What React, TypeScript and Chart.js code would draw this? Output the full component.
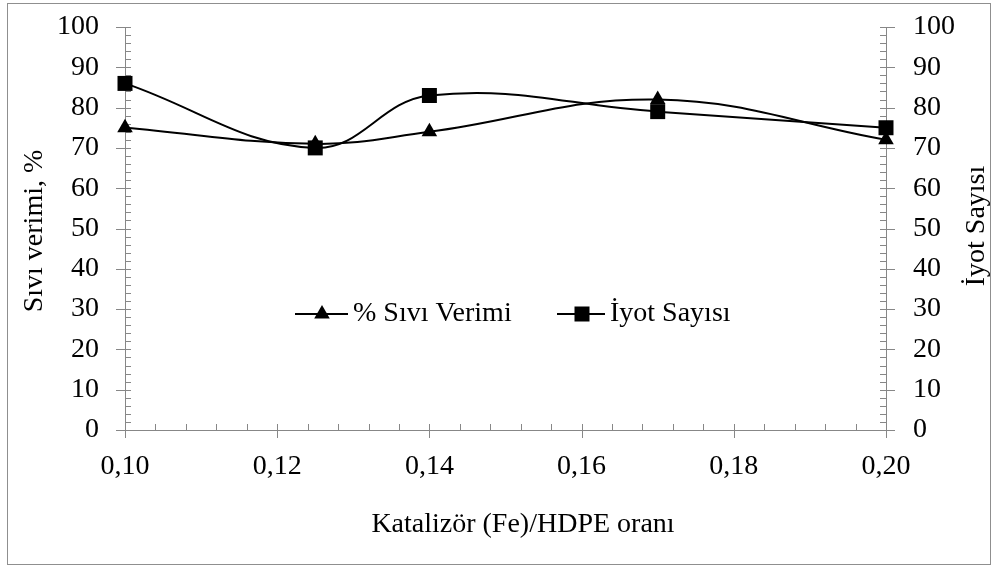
import React, { useEffect, useRef } from "react";
import { Chart, registerables } from "chart.js";

Chart.register(...registerables);

// ---- data ----
const xValues = [0.1, 0.125, 0.14, 0.17, 0.2];
const liquidYield = [75, 71, 74, 82, 72]; // % Sıvı Verimi
const iodineNumber = [86, 70, 83, 79, 75]; // İyot Sayısı
const xTickValues = [0.1, 0.12, 0.14, 0.16, 0.18, 0.2];
const yTickValues = [0, 10, 20, 30, 40, 50, 60, 70, 80, 90, 100];
const seriesLabels = ["% Sıvı Verimi", "İyot Sayısı"];
const xTitle = "Katalizör (Fe)/HDPE oranı";
const yLeftTitle = "Sıvı verimi, %";
const yRightTitle = "İyot Sayısı";

const FONT = "'Liberation Serif', 'Times New Roman', serif";
const AXIS = "#878787";

const fmtX = (v: number) => Number(v).toFixed(2).replace(".", ",");

const decorPlugin = {
  id: "decor",
  beforeDatasetsDraw(chart: any) {
    const ctx = chart.ctx;
    const x = chart.scales.x;
    const y = chart.scales.y;
    const y2 = chart.scales.y2;
    const ca = chart.chartArea;
    ctx.save();
    ctx.strokeStyle = AXIS;
    ctx.lineWidth = 1;
    ctx.beginPath();
    // x ticks
    for (let i = 0; i < xTickValues.length; i++) {
      const px = Math.round(x.getPixelForValue(xTickValues[i])) + 0.5;
      ctx.moveTo(px, ca.bottom - 6);
      ctx.lineTo(px, ca.bottom + 8);
      if (i < xTickValues.length - 1) {
        const step = (xTickValues[i + 1] - xTickValues[i]) / 5;
        for (let k = 1; k < 5; k++) {
          const mx = Math.round(x.getPixelForValue(xTickValues[i] + step * k)) + 0.5;
          ctx.moveTo(mx, ca.bottom - 6);
          ctx.lineTo(mx, ca.bottom);
        }
      }
    }
    // y ticks (left and right)
    for (let i = 0; i < yTickValues.length; i++) {
      const py = Math.round(y.getPixelForValue(yTickValues[i])) + 0.5;
      ctx.moveTo(ca.left - 9, py);
      ctx.lineTo(ca.left + 6, py);
      const py2 = Math.round(y2.getPixelForValue(yTickValues[i])) + 0.5;
      ctx.moveTo(ca.right - 6, py2);
      ctx.lineTo(ca.right + 9, py2);
      if (i < yTickValues.length - 1) {
        const step = (yTickValues[i + 1] - yTickValues[i]) / 5;
        for (let k = 1; k < 5; k++) {
          const my = Math.round(y.getPixelForValue(yTickValues[i] + step * k)) + 0.5;
          ctx.moveTo(ca.left, my);
          ctx.lineTo(ca.left + 6, my);
          const my2 = Math.round(y2.getPixelForValue(yTickValues[i] + step * k)) + 0.5;
          ctx.moveTo(ca.right - 6, my2);
          ctx.lineTo(ca.right, my2);
        }
      }
    }
    ctx.stroke();
    // outer border
    ctx.strokeStyle = "#8f8f8f";
    ctx.strokeRect(7.5, 3.5, 983, 561);
    ctx.restore();
  },
  afterDraw(chart: any) {
    const ctx = chart.ctx;
    ctx.save();
    ctx.fillStyle = "#000";
    ctx.font = `28px ${FONT}`;
    // x title
    ctx.textAlign = "center";
    ctx.textBaseline = "alphabetic";
    ctx.fillText(xTitle, 523, 532);
    // left title
    ctx.save();
    ctx.translate(42, 231);
    ctx.rotate(-Math.PI / 2);
    ctx.fillText(yLeftTitle, 0, 0);
    ctx.restore();
    // right title
    ctx.save();
    ctx.translate(984, 226);
    ctx.rotate(-Math.PI / 2);
    ctx.fillText(yRightTitle, 0, 0);
    ctx.restore();

    // legend
    const ly = 314;
    ctx.strokeStyle = "#000";
    ctx.lineWidth = 2;
    ctx.beginPath();
    ctx.moveTo(295, ly);
    ctx.lineTo(348, ly);
    ctx.moveTo(557, ly);
    ctx.lineTo(605, ly);
    ctx.stroke();
    // triangle marker
    const tr = 9;
    const tcx = 322;
    ctx.beginPath();
    ctx.moveTo(tcx, ly - tr);
    ctx.lineTo(tcx + tr * Math.sin((2 * Math.PI) / 3), ly - tr * Math.cos((2 * Math.PI) / 3));
    ctx.lineTo(tcx + tr * Math.sin((4 * Math.PI) / 3), ly - tr * Math.cos((4 * Math.PI) / 3));
    ctx.closePath();
    ctx.fill();
    // square marker
    const sq = 15;
    ctx.fillRect(582 - sq / 2, ly - sq / 2, sq, sq);
    ctx.textAlign = "left";
    ctx.textBaseline = "middle";
    ctx.fillText(seriesLabels[0], 353, ly);
    ctx.fillText(seriesLabels[1], 610, ly);
    ctx.restore();
  },
};

export default function App() {
  const ref = useRef<HTMLCanvasElement | null>(null);
  useEffect(() => {
    if (!ref.current) return;
    const tickFont = { family: FONT, size: 28 };
    const fitY = (w: number) => (s: any) => {
      s.width = w;
      s.paddingTop = 0;
      s.paddingBottom = 0;
    };
    const chart = new Chart(ref.current, {
      type: "line",
      data: {
        datasets: [
          {
            label: seriesLabels[0],
            data: xValues.map((x, i) => ({ x, y: liquidYield[i] })),
            yAxisID: "y",
            borderColor: "#000",
            backgroundColor: "#000",
            borderWidth: 2,
            pointStyle: "triangle",
            pointRadius: 9,
            pointBorderWidth: 0,
            tension: 0.4,
            clip: false,
            order: 1,
          },
          {
            label: seriesLabels[1],
            data: xValues.map((x, i) => ({ x, y: iodineNumber[i] })),
            yAxisID: "y2",
            borderColor: "#000",
            backgroundColor: "#000",
            borderWidth: 2,
            pointStyle: "rect",
            pointRadius: 10.6,
            pointBorderWidth: 0,
            tension: 0.4,
            clip: false,
            order: 0,
          },
        ],
      },
      options: {
        responsive: false,
        animation: false,
        events: [],
        layout: { padding: { top: 27, left: 0, right: 0, bottom: 0 } },
        plugins: { legend: { display: false }, tooltip: { enabled: false } },
        scales: {
          x: {
            type: "linear",
            min: 0.1,
            max: 0.2,
            afterBuildTicks: (s: any) => {
              s.ticks = xTickValues.map((v) => ({ value: v }));
            },
            afterFit: (s: any) => {
              s.height = 136;
              s.paddingLeft = 0;
              s.paddingRight = 0;
            },
            ticks: {
              callback: (v: any) => fmtX(v),
              font: tickFont,
              color: "#000",
              padding: 20,
              maxRotation: 0,
              autoSkip: false,
            },
            grid: { display: false, drawTicks: false },
            border: { display: true, color: AXIS, width: 1 },
          },
          y: {
            type: "linear",
            position: "left",
            min: 0,
            max: 100,
            afterBuildTicks: (s: any) => {
              s.ticks = yTickValues.map((v) => ({ value: v }));
            },
            afterFit: fitY(125),
            ticks: { font: tickFont, color: "#000", padding: 26, autoSkip: false },
            grid: { display: false, drawTicks: false },
            border: { display: true, color: AXIS, width: 1 },
          },
          y2: {
            type: "linear",
            position: "right",
            min: 0,
            max: 100,
            afterBuildTicks: (s: any) => {
              s.ticks = yTickValues.map((v) => ({ value: v }));
            },
            afterFit: fitY(112),
            ticks: { font: tickFont, color: "#000", padding: 27, autoSkip: false },
            grid: { display: false, drawTicks: false },
            border: { display: true, color: AXIS, width: 1 },
          },
        },
      } as any,
      plugins: [decorPlugin],
    });
    return () => chart.destroy();
  }, []);
  return (
    <div style={{ position: "fixed", left: 0, top: 0, width: 998, height: 566, background: "#fff" }}>
      <canvas ref={ref} width={998} height={566} style={{ width: 998, height: 566, display: "block" }} />
    </div>
  );
}
